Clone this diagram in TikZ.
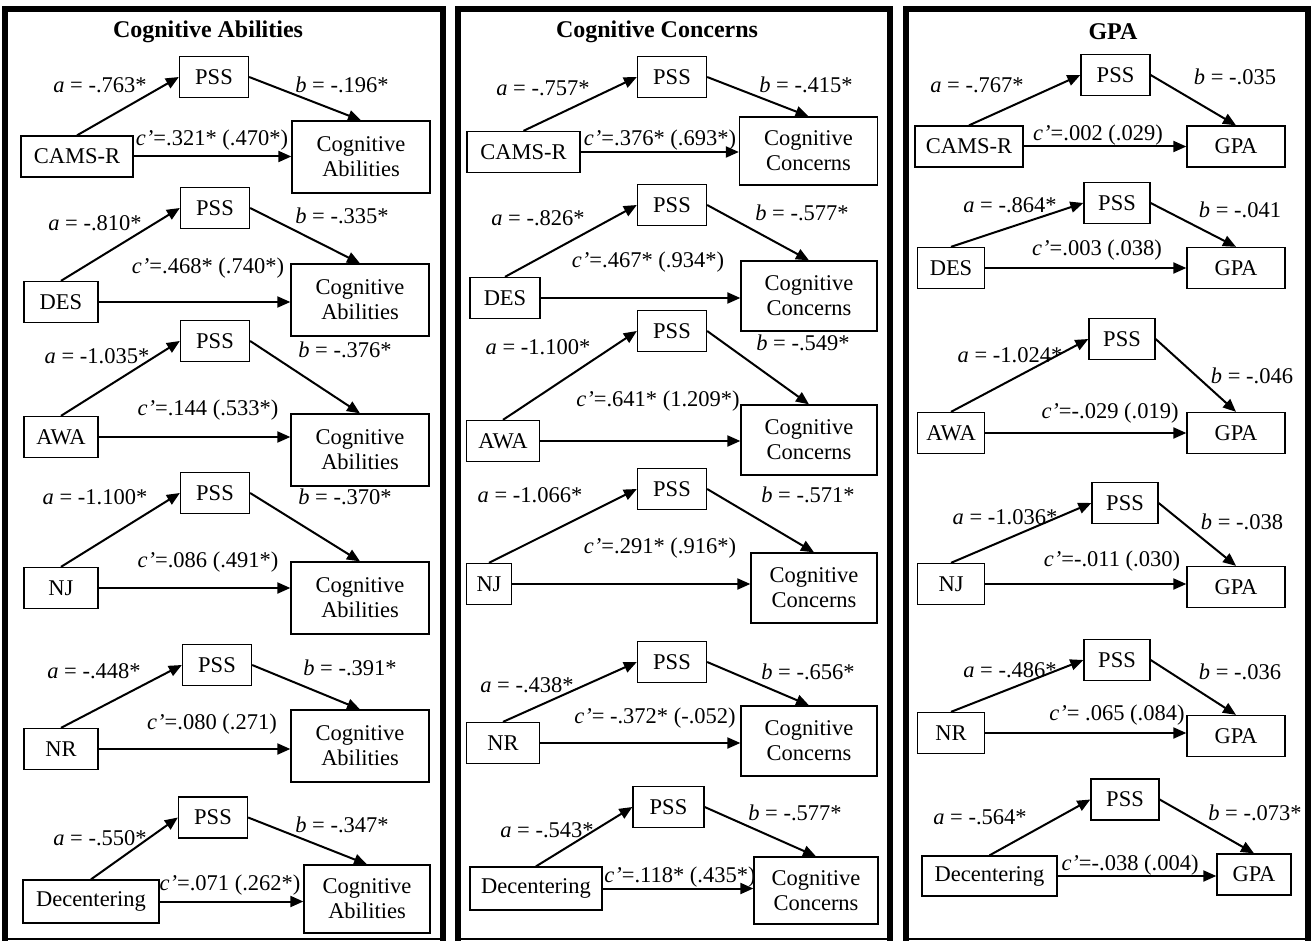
\documentclass[tikz,border=0pt]{standalone}
\usepackage{fontspec}
\setmainfont{Liberation Serif}
\usetikzlibrary{arrows.meta}
\tikzset{every node/.style={inner sep=0pt,font=\fontsize{22.5}{25}\selectfont},
  varbox/.style={draw,line width=1.3pt,minimum height=41pt,align=center},
  pss/.style={varbox,minimum width=69pt},
  cog/.style={varbox,minimum width=138pt,minimum height=72pt},
  gpa/.style={varbox,minimum width=98pt},
  arr/.style={line width=2pt,-{Triangle[length=13pt,width=11pt]}},
  frame/.style={line width=6pt},
  ttl/.style={font=\fontsize{24}{26}\selectfont\bfseries}}

\begin{document}
\begin{tikzpicture}[x=1pt,y=-1pt]
\useasboundingbox (0,0) rectangle (1312,941);
\foreach \l/\r in {5/442.5,458/890,905.5/1308}{
  \draw[frame] (\l,941) -- (\l,9.5) -- (\r,9.5) -- (\r,941);
  \draw[line width=1.2pt] (\l,939) -- (\r,939);}

\node[ttl] (t1) at (208,32) {Cognitive Abilities};
\node[ttl] (t2) at (657,32) {Cognitive Concerns};
\node[ttl] (t3) at (1113,32) {GPA};

\node[varbox,minimum width=112pt] (x1) at (77,156.5) {CAMS-R};
\node[pss] (m1) at (214,77) {PSS};
\node[cog] (y1) at (361,157) {Cognitive\\Abilities};
\node (a1) at (100,85) {\textit{a} = -.763*};
\node (b1) at (342,85) {\textit{b} = -.196*};
\node (c1) at (212,140) {\textit{c’}=.321* (.470*)};

\node[varbox,minimum width=74pt] (x2) at (61,302) {DES};
\node[pss] (m2) at (215,208) {PSS};
\node[cog] (y2) at (360,300) {Cognitive\\Abilities};
\node (a2) at (95,223) {\textit{a} = -.810*};
\node (b2) at (342,216) {\textit{b} = -.335*};
\node (c2) at (208,268) {\textit{c’}=.468* (.740*)};

\node[varbox,minimum width=74pt] (x3) at (61,437) {AWA};
\node[pss] (m3) at (215,341) {PSS};
\node[cog] (y3) at (360,450) {Cognitive\\Abilities};
\node (a3) at (97,356) {\textit{a} = -1.035*};
\node (b3) at (345,350) {\textit{b} = -.376*};
\node (c3) at (208,410) {\textit{c’}=.144 (.533*)};

\node[varbox,minimum width=74pt] (x4) at (61,588) {NJ};
\node[pss] (m4) at (215,493) {PSS};
\node[cog] (y4) at (360,598) {Cognitive\\Abilities};
\node (a4) at (95,497) {\textit{a} = -1.100*};
\node (b4) at (345,497) {\textit{b} = -.370*};
\node (c4) at (208,562) {\textit{c’}=.086 (.491*)};

\node[varbox,minimum width=74pt] (x5) at (61,749) {NR};
\node[pss] (m5) at (217,665) {PSS};
\node[cog] (y5) at (360,746) {Cognitive\\Abilities};
\node (a5) at (94,671) {\textit{a} = -.448*};
\node (b5) at (350,668) {\textit{b} = -.391*};
\node (c5) at (212,724) {\textit{c’}=.080 (.271)};

\node[varbox,minimum width=136pt,minimum height=43pt] (x6) at (91,901.5) {Decentering};
\node[pss] (m6) at (213,817.5) {PSS};
\node[cog,minimum width=126pt,minimum height=68pt] (y6) at (367,899) {Cognitive\\Abilities};
\node (a6) at (100,838) {\textit{a} = -.550*};
\node (b6) at (342,825) {\textit{b} = -.347*};
\node (c6) at (230,885) {\textit{c’}=.071 (.262*)};

\node[varbox,minimum width=113pt] (x7) at (523.5,152) {CAMS-R};
\node[pss] (m7) at (672,77) {PSS};
\node[cog,minimum height=68pt] (y7) at (808.5,151) {Cognitive\\Concerns};
\node (a7) at (543,88) {\textit{a} = -.757*};
\node (b7) at (806,85) {\textit{b} = -.415*};
\node (c7) at (660,140) {\textit{c’}=.376* (.693*)};

\node[varbox,minimum width=70pt] (x8) at (505,298) {DES};
\node[pss] (m8) at (672,205) {PSS};
\node[cog,minimum width=136pt,minimum height=70pt] (y8) at (809,296) {Cognitive\\Concerns};
\node (a8) at (538,218) {\textit{a} = -.826*};
\node (b8) at (802,213) {\textit{b} = -.577*};
\node (c8) at (648,262) {\textit{c’}=.467* (.934*)};

\node[varbox,minimum width=73pt] (x9) at (503,441) {AWA};
\node[pss] (m9) at (672,331) {PSS};
\node[cog,minimum width=136pt,minimum height=70pt] (y9) at (809,440) {Cognitive\\Concerns};
\node (a9) at (538,347) {\textit{a} = -1.100*};
\node (b9) at (803,343) {\textit{b} = -.549*};
\node (c9) at (658,401) {\textit{c’}=.641* (1.209*)};

\node[varbox,minimum width=45pt] (x10) at (489,584) {NJ};
\node[pss] (m10) at (672,489) {PSS};
\node[cog,minimum width=126pt,minimum height=70pt] (y10) at (814,588) {Cognitive\\Concerns};
\node (a10) at (530,495) {\textit{a} = -1.066*};
\node (b10) at (808,495) {\textit{b} = -.571*};
\node (c10) at (660,548) {\textit{c’}=.291* (.916*)};

\node[varbox,minimum width=73pt] (x11) at (503,743) {NR};
\node[pss] (m11) at (672,662) {PSS};
\node[cog,minimum width=136pt,minimum height=70pt] (y11) at (809,741) {Cognitive\\Concerns};
\node (a11) at (527,685) {\textit{a} = -.438*};
\node (b11) at (808,672) {\textit{b} = -.656*};
\node (c11) at (655,718) {\textit{c’}= -.372* (-.052)};

\node[varbox,minimum width=132pt,minimum height=43pt] (x12) at (536,888.5) {Decentering};
\node[pss,minimum width=71pt] (m12) at (668.5,807) {PSS};
\node[cog,minimum width=124pt,minimum height=67pt] (y12) at (816,890.5) {Cognitive\\Concerns};
\node (a12) at (547,830) {\textit{a} = -.543*};
\node (b12) at (795,813) {\textit{b} = -.577*};
\node (c12) at (680,877) {\textit{c’}=.118* (.435*)};

\node[varbox,minimum width=108pt] (x13) at (969,146.5) {CAMS-R};
\node[pss] (m13) at (1115.5,75) {PSS};
\node[gpa] (y13) at (1236,146.5) {GPA};
\node (a13) at (977,85) {\textit{a} = -.767*};
\node (b13) at (1235,77) {\textit{b} = -.035};
\node (c13) at (1098,135) {\textit{c’}=.002 (.029)};

\node[varbox,minimum width=67pt] (x14) at (951,268) {DES};
\node[pss,minimum width=66pt] (m14) at (1117,203) {PSS};
\node[gpa] (y14) at (1236,268) {GPA};
\node (a14) at (1010,205) {\textit{a} = -.864*};
\node (b14) at (1240,210) {\textit{b} = -.041};
\node (c14) at (1097,250) {\textit{c’}=.003 (.038)};

\node[varbox,minimum width=67pt] (x15) at (951,433) {AWA};
\node[pss,minimum width=66pt] (m15) at (1122,339) {PSS};
\node[gpa] (y15) at (1236,433) {GPA};
\node (a15) at (1010,355) {\textit{a} = -1.024*};
\node (b15) at (1252,376) {\textit{b} = -.046};
\node (c15) at (1110,413) {\textit{c’}=-.029 (.019)};

\node[varbox,minimum width=67pt] (x16) at (951,584) {NJ};
\node[pss,minimum width=66pt] (m16) at (1125,503) {PSS};
\node[gpa] (y16) at (1236,587) {GPA};
\node (a16) at (1005,517) {\textit{a} = -1.036*};
\node (b16) at (1242,522) {\textit{b} = -.038};
\node (c16) at (1112,561) {\textit{c’}=-.011 (.030)};

\node[varbox,minimum width=67pt] (x17) at (951,733) {NR};
\node[pss,minimum width=66pt] (m17) at (1117,660) {PSS};
\node[gpa] (y17) at (1236,736) {GPA};
\node (a17) at (1010,670) {\textit{a} = -.486*};
\node (b17) at (1240,672) {\textit{b} = -.036};
\node (c17) at (1117,715) {\textit{c’}= .065 (.084)};

\node[varbox,minimum width=135pt,minimum height=40pt] (x18) at (989.5,876) {Decentering};
\node[pss,minimum width=68pt] (m18) at (1125,799.5) {PSS};
\node[gpa,minimum width=74pt] (y18) at (1254,874.5) {GPA};
\node (a18) at (980,817) {\textit{a} = -.564*};
\node (b18) at (1255,813) {\textit{b} = -.073*};
\node (c18) at (1130,865) {\textit{c’}=-.038 (.004)};

\foreach \i in {1,...,18}{
  \draw[arr] (x\i.north) -- (m\i.west);
  \draw[arr] (m\i.east) -- (y\i.north);
  \draw[arr] (x\i.east) -- (x\i.east -| y\i.west);}
\end{tikzpicture}
\end{document}
